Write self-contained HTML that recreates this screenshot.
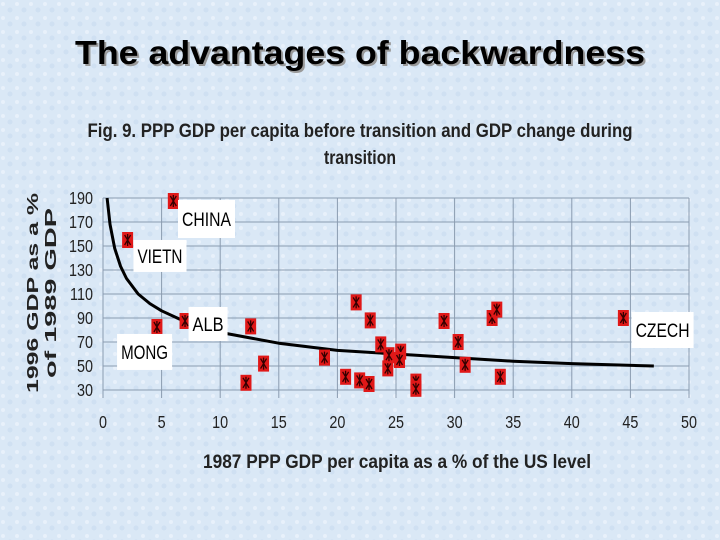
<!DOCTYPE html>
<html><head><meta charset="utf-8"><style>
body{margin:0;}
#wrap{position:relative;width:720px;height:540px;overflow:hidden;background:#dce9f6;font-family:"Liberation Sans",sans-serif;}
</style></head><body>
<div id="wrap">
<svg width="720" height="540" style="position:absolute;left:0;top:0">
<defs>
<pattern id="tex" width="14" height="14" patternUnits="userSpaceOnUse">
<rect width="14" height="14" fill="#dae8f6"/>
<circle cx="3" cy="4" r="2" fill="#e8f1fb"/><circle cx="10" cy="10" r="2.5" fill="#cfe0f2"/>
</pattern>
</defs>
<rect width="720" height="540" fill="url(#tex)"/>
<text x="362" y="66" text-anchor="middle" font-size="33" font-weight="bold" fill="#999" textLength="570" lengthAdjust="spacingAndGlyphs">The advantages of backwardness</text>
<text x="360" y="64" text-anchor="middle" font-size="33" font-weight="bold" fill="#000" textLength="570" lengthAdjust="spacingAndGlyphs">The advantages of backwardness</text>
<text x="360" y="137" text-anchor="middle" font-size="19" font-weight="bold" fill="#222" textLength="545" lengthAdjust="spacingAndGlyphs">Fig. 9. PPP GDP per capita before transition and GDP change during</text>
<text x="360" y="164" text-anchor="middle" font-size="19" font-weight="bold" fill="#222" textLength="72" lengthAdjust="spacingAndGlyphs">transition</text>
<g transform="translate(38,293) rotate(-90)">
<text x="0" y="0" text-anchor="middle" font-size="16" font-weight="bold" textLength="200" lengthAdjust="spacingAndGlyphs" fill="#222">1996 GDP as a %</text>
<text x="0" y="18" text-anchor="middle" font-size="16" font-weight="bold" textLength="170" lengthAdjust="spacingAndGlyphs" fill="#222">of 1989 GDP</text>
</g>
<text x="397" y="468" text-anchor="middle" font-size="19" font-weight="bold" fill="#222" textLength="388" lengthAdjust="spacingAndGlyphs">1987 PPP GDP per capita as a % of the US level</text>
<g id="grid"></g><g id="ticks"></g><g id="curve"></g><g id="pts"></g><g id="labels"></g>
</svg>
</div>
<script>
const xVals=[2.1,6.0,4.6,7.0,12.6,12.2,13.7,18.9,21.6,20.7,21.9,22.7,22.8,23.7,24.3,24.4,25.4,25.3,26.7,26.7,29.1,30.3,30.9,33.2,33.6,33.9,44.4];
const yVals=[155,187.5,82.5,87.5,83,36,52,57,103,41,38,35,88,68,48,59,62,55,37,31,87.5,70,51,90,97,41,90];
const trendX=[0.35,0.6,1,1.5,2,3,4,5,7,10,15,20,25,30,35,40,47];
const trendY=[190,168,148,133,123,110,102,96,87,78,69,63,60,57,54,52,50];
const xTicks=[0,5,10,15,20,25,30,35,40,45,50];
const yTicks=[30,50,70,90,110,130,150,170,190];
const countryLabels=[{name:"CHINA",x:6.4,y:172.5,w:57,h:38},{name:"VIETN",x:2.6,y:141.7,w:53,h:32},{name:"ALB",x:7.3,y:85,w:39,h:34},{name:"MONG",x:1.2,y:61.7,w:55,h:36},{name:"CZECH",x:45.1,y:80,w:62,h:36}];
const NS="http://www.w3.org/2000/svg";
const X0=103,X1=689,Y0=390,Y1=198;
const sx=v=>X0+(v-0)/50*(X1-X0);
const sy=v=>Y0-(v-30)/160*(Y0-Y1);
function mk(tag,attrs,parent){const e=document.createElementNS(NS,tag);for(const k in attrs)e.setAttribute(k,attrs[k]);document.getElementById(parent).appendChild(e);return e;}
xTicks.forEach(t=>{
const l=mk('line',{x1:sx(t),x2:sx(t),y1:Y1,y2:Y0+8,stroke:'#8a9bb0','stroke-width':1},'grid');


const tx=mk('text',{x:sx(t),y:428,'text-anchor':'middle','font-size':18,fill:'#222',transform:`translate(${sx(t)*0.2},0) scale(0.8,1)`},'ticks');tx.textContent=t;


});
yTicks.forEach(t=>{
const l=mk('line',{x1:X0,x2:X1,y1:sy(t),y2:sy(t),stroke:'#8a9bb0','stroke-width':1},'grid');


const tx=mk('text',{x:93,y:sy(t)+6,'text-anchor':'end','font-size':18,fill:'#222',transform:`translate(${93*0.2},0) scale(0.8,1)`},'ticks');tx.textContent=t;


});
let d='';
for(let i=0;i<trendX.length;i++){d+=(i?'L':'M')+sx(trendX[i])+','+sy(trendY[i]);}
const c=mk('path',{d:d,fill:'none',stroke:'#000','stroke-width':3,'stroke-linejoin':'round'},'curve');


xVals.forEach((v,i)=>{
const g=mk('g',{transform:`translate(${sx(v)},${sy(yVals[i])})`},'pts');


const r=document.createElementNS(NS,'rect');r.setAttribute('x',-5.5);r.setAttribute('y',-8);r.setAttribute('width',11);r.setAttribute('height',16);r.setAttribute('fill','#e01818');g.appendChild(r);
const p=document.createElementNS(NS,'path');p.setAttribute('d','M-3,-5L3,5M3,-5L-3,5M0,-6V6');p.setAttribute('stroke','#300');p.setAttribute('stroke-width','1.3');g.appendChild(p);
});
countryLabels.forEach(o=>{
const g=mk('g',{},'labels');


const r=document.createElementNS(NS,'rect');r.setAttribute('x',sx(o.x));r.setAttribute('y',sy(o.y)-o.h/2);r.setAttribute('width',o.w);r.setAttribute('height',o.h);r.setAttribute('fill','#fff');g.appendChild(r);
const t=document.createElementNS(NS,'text');t.setAttribute('x',sx(o.x)+o.w/2);t.setAttribute('y',sy(o.y)+7);t.setAttribute('text-anchor','middle');t.setAttribute('font-size','19');t.setAttribute('textLength',o.w-8);t.setAttribute('lengthAdjust','spacingAndGlyphs');t.textContent=o.name;g.appendChild(t);
});
</script>
</body></html>
